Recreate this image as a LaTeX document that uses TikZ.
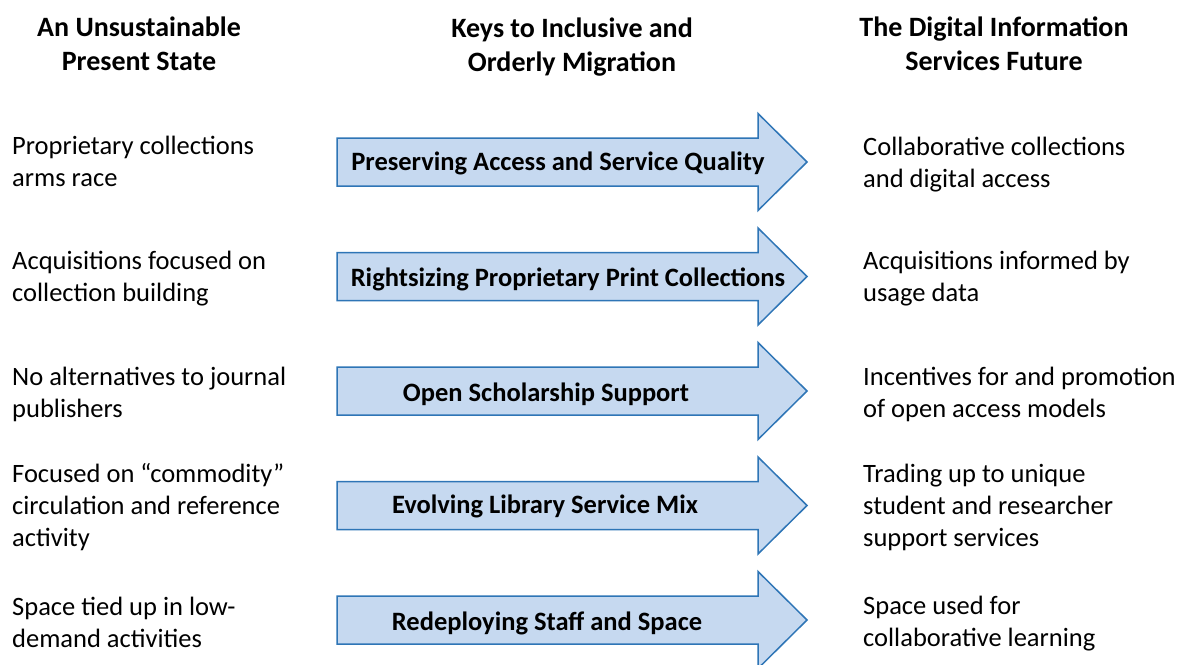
\documentclass[tikz,border=0pt]{standalone}
\usepackage{fontspec}
\setmainfont{Carlito}
\usetikzlibrary{positioning}
\definecolor{arrowblue}{RGB}{46,117,182}
\definecolor{arrowfill}{RGB}{198,217,240}

\begin{document}
\begin{tikzpicture}[
    x=1pt,y=-1pt,
    keyarrow/.style={%
      draw=arrowblue,
      fill=arrowfill,
      line width=1.5pt,
    },
    key/.style={%
      font=\fontsize{26.5}{32}\selectfont\bfseries,
      anchor=base,
      inner sep=0pt,
    },
    item/.style={%
      font=\fontsize{26.5}{32}\selectfont,
      align=left,
      anchor=west,
      inner sep=0pt,
    },
    head/.style={%
      font=\fontsize{28}{34}\selectfont\bfseries,
      align=center,
      inner sep=0pt,
    },
  ]

    \useasboundingbox (0,0) rectangle (1178,664);

    % column heads
    \node [head] (T1) at (139,44) {An Unsustainable\\Present State};
    \node [head] (T2) at (572,47) {Keys to Inclusive and\\Orderly Migration};
    \node [head] (T3) at (994,44) {The Digital Information\\Services Future};

    % arrows in the middle
    \foreach \y/\name/\lx/\dy/\txt in {%
        162/K1/558/8/{Preserving Access and Service Quality},
        276.5/K2/568/10/{Rightsizing Proprietary Print Collections},
        391/K3/546/10.5/{Open Scholarship Support},
        505.5/K4/545/7.5/{Evolving Library Service Mix},
        620/K5/547/10/{Redeploying Staff and Space}}{
      \draw [keyarrow] (337,{\y-24}) -- (758,{\y-24}) -- (758,{\y-48.5})
        -- (807,\y) -- (758,{\y+48.5}) -- (758,{\y+24}) -- (337,{\y+24}) -- cycle;
      \node [key] (\name) at (\lx,{\y+\dy}) {\txt};
    }

    % present state
    \node [item] (L1) at (12,161) {Proprietary collections\\arms race};
    \node [item] (L2) at (12,279) {Acquisitions focused on\\collection building};
    \node [item] (L3) at (12,394) {No alternatives to journal\\publishers};
    \node [item] (L4) at (12,507) {Focused on ``commodity''\\circulation and reference\\activity};
    \node [item] (L5) at (12,622) {Space tied up in low-\\demand activities};

    % future
    \node [item] (R1) at (863,165) {Collaborative collections\\and digital access};
    \node [item] (R2) at (863,279) {Acquisitions informed by\\usage data};
    \node [item] (R3) at (863,394) {Incentives for and promotion\\of open access models};
    \node [item] (R4) at (863,507) {Trading up to unique\\student and researcher\\support services};
    \node [item] (R5) at (863,624) {Space used for\\collaborative learning};

\end{tikzpicture}
\end{document}
